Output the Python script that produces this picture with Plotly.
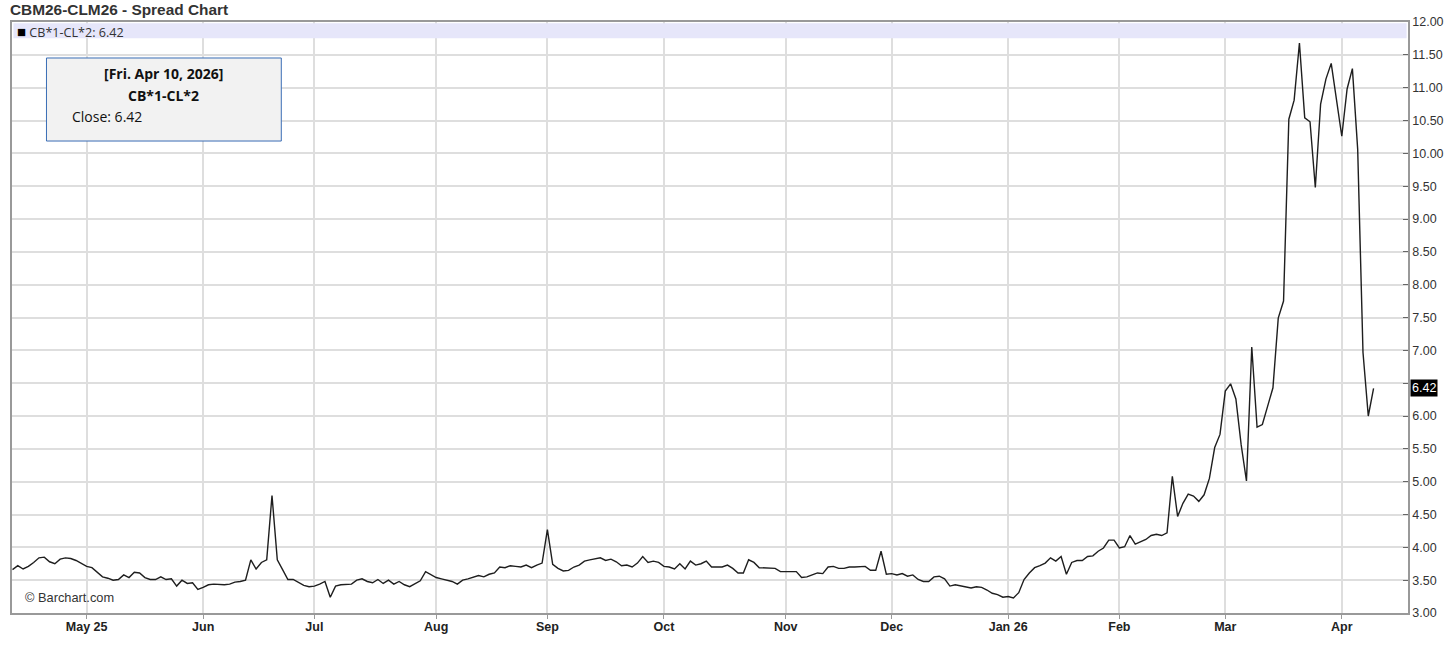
import pandas as pd
import plotly.graph_objects as go

# ---------------- data ----------------
series_name = "CB*1-CL*2"
chart_title = "CBM26-CLM26 - Spread Chart"
start_date = "2025-04-10"
end_date = "2026-04-10"
closed_days = ["2025-04-18", "2025-12-25", "2026-01-01", "2026-04-03"]

vals_2025_04 = [3.66, 3.72, 3.67, 3.71, 3.77, 3.84, 3.85, 3.78, 3.75, 3.82, 3.84, 3.83, 3.80, 3.75]
vals_2025_05 = [3.71, 3.69, 3.62, 3.55, 3.53, 3.50, 3.51, 3.58, 3.54, 3.62, 3.61, 3.54, 3.51, 3.51,
                3.55, 3.51, 3.52, 3.41, 3.50, 3.45, 3.46, 3.36]
vals_2025_06 = [3.39, 3.43, 3.44, 3.43, 3.43, 3.44, 3.47, 3.48, 3.50, 3.81, 3.67, 3.77, 3.81, 4.79,
                3.81, 3.66, 3.51, 3.51, 3.46, 3.42, 3.40]
vals_2025_07 = [3.41, 3.44, 3.48, 3.24, 3.41, 3.43, 3.44, 3.44, 3.50, 3.52, 3.48, 3.46, 3.51, 3.45,
                3.50, 3.44, 3.48, 3.43, 3.40, 3.45, 3.49, 3.63, 3.58]
vals_2025_08 = [3.54, 3.52, 3.50, 3.48, 3.44, 3.50, 3.52, 3.54, 3.57, 3.55, 3.59, 3.61, 3.70, 3.69,
                3.72, 3.71, 3.70, 3.73, 3.69, 3.73, 3.76]
vals_2025_09 = [4.27, 3.74, 3.68, 3.64, 3.65, 3.70, 3.73, 3.79, 3.81, 3.83, 3.84, 3.80, 3.82, 3.78,
                3.72, 3.73, 3.70, 3.76, 3.86, 3.77, 3.79, 3.77]
vals_2025_10 = [3.71, 3.70, 3.67, 3.75, 3.67, 3.79, 3.73, 3.75, 3.79, 3.70, 3.70, 3.70, 3.73, 3.68,
                3.61, 3.61, 3.81, 3.77, 3.69, 3.69, 3.68, 3.68, 3.63]
vals_2025_11 = [3.63, 3.64, 3.63, 3.54, 3.55, 3.58, 3.61, 3.60, 3.70, 3.71, 3.68, 3.68, 3.70, 3.70,
                3.71, 3.71, 3.65, 3.65, 3.94, 3.59]
vals_2025_12 = [3.60, 3.58, 3.60, 3.56, 3.58, 3.51, 3.48, 3.48, 3.55, 3.56, 3.52, 3.41, 3.43, 3.41,
                3.40, 3.38, 3.40, 3.39, 3.35, 3.30, 3.28, 3.24]
vals_2026_01 = [3.25, 3.23, 3.31, 3.51, 3.61, 3.69, 3.72, 3.76, 3.84, 3.79, 3.86, 3.59, 3.77, 3.80,
                3.80, 3.86, 3.87, 3.94, 3.99, 4.11, 4.11]
vals_2026_02 = [3.99, 4.01, 4.18, 4.05, 4.08, 4.12, 4.18, 4.20, 4.18, 4.22, 5.08, 4.47, 4.67, 4.81,
                4.78, 4.70, 4.80, 5.05, 5.52, 5.72]
vals_2026_03 = [6.38, 6.49, 6.26, 5.56, 5.01, 7.05, 5.83, 5.87, 6.15, 6.43, 7.49, 7.75, 10.52, 10.81,
                11.68, 10.54, 10.48, 9.48, 10.75, 11.13, 11.37, 10.82]
vals_2026_04 = [10.26, 10.98, 11.29, 10.06, 6.97, 6.00, 6.42]

tick_labels = ["May 25", "Jun", "Jul", "Aug", "Sep", "Oct", "Nov", "Dec",
               "Jan 26", "Feb", "Mar", "Apr"]
y_ticks = [3.0, 3.5, 4.0, 4.5, 5.0, 5.5, 6.0, 6.5, 7.0, 7.5, 8.0, 8.5,
           9.0, 9.5, 10.0, 10.5, 11.0, 11.5, 12.0]

# ---------------- build ----------------
values = (vals_2025_04 + vals_2025_05 + vals_2025_06 + vals_2025_07 + vals_2025_08 +
          vals_2025_09 + vals_2025_10 + vals_2025_11 + vals_2025_12 + vals_2026_01 +
          vals_2026_02 + vals_2026_03 + vals_2026_04)

all_days = pd.bdate_range(start_date, end_date)
dates = all_days[~all_days.isin(pd.to_datetime(closed_days))]
n = min(len(dates), len(values))
dates = dates[:n]
values = values[:n]

df = pd.DataFrame({"date": dates, "close": values})
firsts = df.groupby([df.date.dt.year, df.date.dt.month])["date"].min().sort_values().tolist()
tick_vals = firsts[1:1 + len(tick_labels)]

last_date = df.date.iloc[-1]
last_val = df.close.iloc[-1]

# hide the tick label that the last-value box covers
y_text = ["" if abs(v - last_val) < 0.12 else f"{v:.2f}" for v in y_ticks]

AX = "Liberation Sans, Arial, sans-serif"
OS = "Open Sans, Noto Sans, sans-serif"

fig = go.Figure()
fig.add_trace(go.Scatter(
    x=df.date, y=df.close, mode="lines",
    line=dict(color="#1e1e1e", width=1.4),
    hoverinfo="skip", showlegend=False,
))

fig.update_layout(
    width=1456, height=653,
    margin=dict(l=10, r=48, t=22, b=40),
    paper_bgcolor="white", plot_bgcolor="white",
    showlegend=False,
    xaxis=dict(
        range=["2025-04-09 21:45", "2026-04-20 12:00"],
        rangebreaks=[dict(bounds=["sat", "mon"]), dict(values=closed_days)],
        tickmode="array", tickvals=tick_vals, ticktext=tick_labels,
        ticks="outside", ticklen=4, tickcolor="#999",
        ticklabelstandoff=-3,
        showgrid=True, gridcolor="#dedede", gridwidth=1.5,
        showline=True, linecolor="#999", linewidth=1.5, mirror=True,
        tickfont=dict(family=AX, size=12.5, color="#222", weight="bold"),
        zeroline=False, fixedrange=True,
    ),
    yaxis=dict(
        side="right", range=[3, 12],
        tickmode="array", tickvals=y_ticks, ticktext=y_text,
        ticks="inside", ticklen=5, tickcolor="#666",
        showgrid=True, gridcolor="#dedede", gridwidth=1.5,
        showline=True, linecolor="#999", linewidth=1.5, mirror=True,
        tickfont=dict(family=AX, size=12.5, color="#333"),
        zeroline=False, fixedrange=True,
    ),
)

# legend bar at top of plot
fig.add_shape(type="rect", xref="paper", yref="paper", x0=0.001, x1=0.999, y0=0.9725, y1=0.998,
              fillcolor="#e6e6fa", line=dict(width=0), layer="above")
fig.add_annotation(xref="paper", yref="paper", x=0, y=0.985, xanchor="left", yanchor="middle",
                   xshift=3, showarrow=False,
                   text=(f"<span style='color:#000;font-size:15px'>■</span> "
                         f"{series_name}: {last_val:.2f}"),
                   font=dict(family=OS, size=12.6, color="#333"))

# tooltip box
bx0, bx1 = 0.0247, 0.1929
fig.add_shape(type="rect", xref="paper", yref="paper", x0=bx0, x1=bx1, y0=0.7986, y1=0.9391,
              fillcolor="#f2f2f2", line=dict(color="#3a6db5", width=1), layer="above")
box_cx = (bx0 + bx1) / 2
date_txt = f"[{last_date.strftime('%a')}. {last_date.strftime('%b')} {last_date.day}, {last_date.year}]"
fig.add_annotation(xref="paper", yref="paper", x=box_cx, y=0.9124, xanchor="center", yanchor="middle",
                   showarrow=False, text=f"<b>{date_txt}</b>",
                   font=dict(family=OS, size=14, color="#111"))
fig.add_annotation(xref="paper", yref="paper", x=box_cx, y=0.8752, xanchor="center", yanchor="middle",
                   showarrow=False, text=f"<b>{series_name}</b>",
                   font=dict(family=OS, size=14, color="#111"))
fig.add_annotation(xref="paper", yref="paper", x=0.0415, y=0.8397, xanchor="left", yanchor="middle",
                   showarrow=False, text=f"Close: {last_val:.2f}",
                   font=dict(family=OS, size=14, color="#111"))

# watermark
fig.add_annotation(xref="paper", yref="paper", x=0.0093, y=0.0254, xanchor="left", yanchor="middle",
                   xshift=-2, showarrow=False, text="© Barchart.com",
                   font=dict(family=AX, size=12.8, color="#333"))

# last value label on the axis
fig.add_annotation(xref="paper", yref="y", x=1, y=last_val, xanchor="left", yanchor="middle",
                   xshift=2, showarrow=False, text=f"{last_val:.2f}",
                   bgcolor="#000", borderpad=1,
                   font=dict(family=AX, size=12.5, color="#fff"))

# title
fig.add_annotation(xref="paper", yref="paper", x=0, y=1, xanchor="left", yanchor="middle",
                   xshift=-4, yshift=13, showarrow=False, text=chart_title,
                   font=dict(family=AX, size=15.4, color="#333", weight="bold"))

fig.write_html("out.html", config={"displayModeBar": False},
               post_script="document.body.style.margin='0px';")
